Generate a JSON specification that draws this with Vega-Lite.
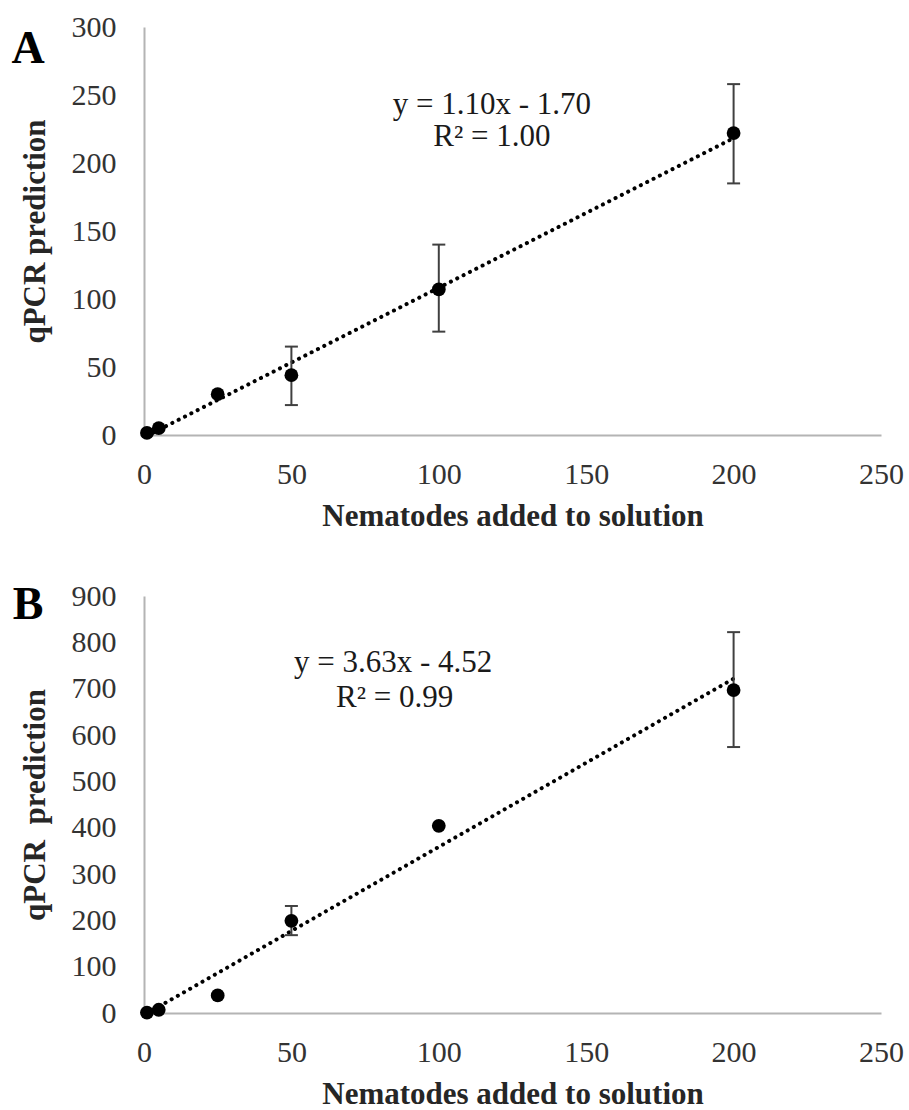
{
  "$schema": "https://vega.github.io/schema/vega-lite/v6.json",
  "padding": {"left": 11, "top": 12, "right": 0, "bottom": 0},
  "background": "white",
  "config": {
    "font": "Liberation Serif",
    "view": {"stroke": null},
    "axis": {
      "grid": false, "ticks": false,
      "domainColor": "#b4b4b4", "domainWidth": 2,
      "labelFont": "Liberation Serif", "labelFontSize": 30, "labelColor": "#333333",
      "titleFont": "Liberation Serif", "titleFontSize": 31, "titleFontWeight": "bold", "titleColor": "#262626"
    },
    "axisY": {"labelPadding": 28, "titlePadding": 20, "labelFlush": false},
    "axisX": {"labelPadding": 24, "titlePadding": 12, "labelFlush": false, "labelOverlap": false}
  },
  "datasets": {
    "a": [
      {"x": 1, "y": 1.5, "lo": null, "hi": null},
      {"x": 5, "y": 5, "lo": null, "hi": null},
      {"x": 25, "y": 30, "lo": null, "hi": null},
      {"x": 50, "y": 44, "lo": 22, "hi": 65},
      {"x": 100, "y": 107, "lo": 76, "hi": 140},
      {"x": 200, "y": 222, "lo": 185, "hi": 258}
    ],
    "b": [
      {"x": 1, "y": 1, "lo": null, "hi": null},
      {"x": 5, "y": 7, "lo": null, "hi": null},
      {"x": 25, "y": 38, "lo": null, "hi": null},
      {"x": 50, "y": 199, "lo": 168, "hi": 231},
      {"x": 100, "y": 404, "lo": null, "hi": null},
      {"x": 200, "y": 697, "lo": 574, "hi": 822}
    ],
    "ta": [{"x": 1, "y": -0.6}, {"x": 200, "y": 218.3}],
    "tb": [{"x": 1, "y": -0.9}, {"x": 200, "y": 721.5}],
    "la": [
      {"x": 118, "y": 243, "t": "y = 1.10x - 1.70"},
      {"x": 118, "y": 219, "t": "R² = 1.00"}
    ],
    "pa": [{"x": -39.3, "y": 284, "t": "A"}],
    "lb": [
      {"x": 84.5, "y": 755, "t": "y = 3.63x - 4.52"},
      {"x": 85, "y": 680, "t": "R² = 0.99"}
    ],
    "pb": [{"x": -39.3, "y": 881, "t": "B"}]
  },
  "vconcat": [
    {
      "width": 737, "height": 408,
      "layer": [
        {
          "data": {"name": "ta"},
          "mark": {"type": "line", "color": "black", "strokeWidth": 4, "strokeDash": [0.1, 7], "strokeCap": "round"},
          "encoding": {
            "x": {"field": "x", "type": "quantitative", "scale": {"domain": [0, 250], "nice": false, "zero": false}, "axis": {"values": [0, 50, 100, 150, 200, 250], "title": "Nematodes added to solution"}},
            "y": {"field": "y", "type": "quantitative", "scale": {"domain": [0, 300], "nice": false, "zero": false}, "axis": {"values": [0, 50, 100, 150, 200, 250, 300], "title": "qPCR prediction"}}
          }
        },
        {
          "data": {"name": "a"},
          "transform": [{"filter": "datum.lo != null"}],
          "mark": {"type": "rule", "color": "#404040", "strokeWidth": 2},
          "encoding": {
            "x": {"field": "x", "type": "quantitative"},
            "y": {"field": "lo", "type": "quantitative"},
            "y2": {"field": "hi"}
          }
        },
        {
          "data": {"name": "a"},
          "transform": [{"filter": "datum.lo != null"}, {"fold": ["lo", "hi"], "as": ["k", "v"]}],
          "mark": {"type": "tick", "orient": "horizontal", "color": "#404040", "size": 13, "thickness": 2, "opacity": 1},
          "encoding": {
            "x": {"field": "x", "type": "quantitative"},
            "y": {"field": "v", "type": "quantitative"}
          }
        },
        {
          "data": {"name": "a"},
          "mark": {"type": "circle", "color": "black", "size": 190, "opacity": 1},
          "encoding": {
            "x": {"field": "x", "type": "quantitative"},
            "y": {"field": "y", "type": "quantitative"}
          }
        },
        {
          "data": {"name": "la"},
          "mark": {"type": "text", "color": "#1a1a1a", "baseline": "middle", "align": "center", "fontSize": 31},
          "encoding": {
            "x": {"field": "x", "type": "quantitative"},
            "y": {"field": "y", "type": "quantitative"},
            "text": {"field": "t"}
          }
        },
        {
          "data": {"name": "pa"},
          "mark": {"type": "text", "color": "black", "baseline": "middle", "align": "center", "fontSize": 46, "fontWeight": "bold"},
          "encoding": {
            "x": {"field": "x", "type": "quantitative"},
            "y": {"field": "y", "type": "quantitative"},
            "text": {"field": "t"}
          }
        }
      ]
    },
    {
      "width": 737, "height": 417,
      "layer": [
        {
          "data": {"name": "tb"},
          "mark": {"type": "line", "color": "black", "strokeWidth": 4, "strokeDash": [0.1, 7], "strokeCap": "round"},
          "encoding": {
            "x": {"field": "x", "type": "quantitative", "scale": {"domain": [0, 250], "nice": false, "zero": false}, "axis": {"values": [0, 50, 100, 150, 200, 250], "title": "Nematodes added to solution"}},
            "y": {"field": "y", "type": "quantitative", "scale": {"domain": [0, 900], "nice": false, "zero": false}, "axis": {"values": [0, 100, 200, 300, 400, 500, 600, 700, 800, 900], "title": "qPCR\u00a0 prediction"}}
          }
        },
        {
          "data": {"name": "b"},
          "transform": [{"filter": "datum.lo != null"}],
          "mark": {"type": "rule", "color": "#404040", "strokeWidth": 2},
          "encoding": {
            "x": {"field": "x", "type": "quantitative"},
            "y": {"field": "lo", "type": "quantitative"},
            "y2": {"field": "hi"}
          }
        },
        {
          "data": {"name": "b"},
          "transform": [{"filter": "datum.lo != null"}, {"fold": ["lo", "hi"], "as": ["k", "v"]}],
          "mark": {"type": "tick", "orient": "horizontal", "color": "#404040", "size": 13, "thickness": 2, "opacity": 1},
          "encoding": {
            "x": {"field": "x", "type": "quantitative"},
            "y": {"field": "v", "type": "quantitative"}
          }
        },
        {
          "data": {"name": "b"},
          "mark": {"type": "circle", "color": "black", "size": 190, "opacity": 1},
          "encoding": {
            "x": {"field": "x", "type": "quantitative"},
            "y": {"field": "y", "type": "quantitative"}
          }
        },
        {
          "data": {"name": "lb"},
          "mark": {"type": "text", "color": "#1a1a1a", "baseline": "middle", "align": "center", "fontSize": 31},
          "encoding": {
            "x": {"field": "x", "type": "quantitative"},
            "y": {"field": "y", "type": "quantitative"},
            "text": {"field": "t"}
          }
        },
        {
          "data": {"name": "pb"},
          "mark": {"type": "text", "color": "black", "baseline": "middle", "align": "center", "fontSize": 46, "fontWeight": "bold"},
          "encoding": {
            "x": {"field": "x", "type": "quantitative"},
            "y": {"field": "y", "type": "quantitative"},
            "text": {"field": "t"}
          }
        }
      ]
    }
  ],
  "spacing": 50
}
